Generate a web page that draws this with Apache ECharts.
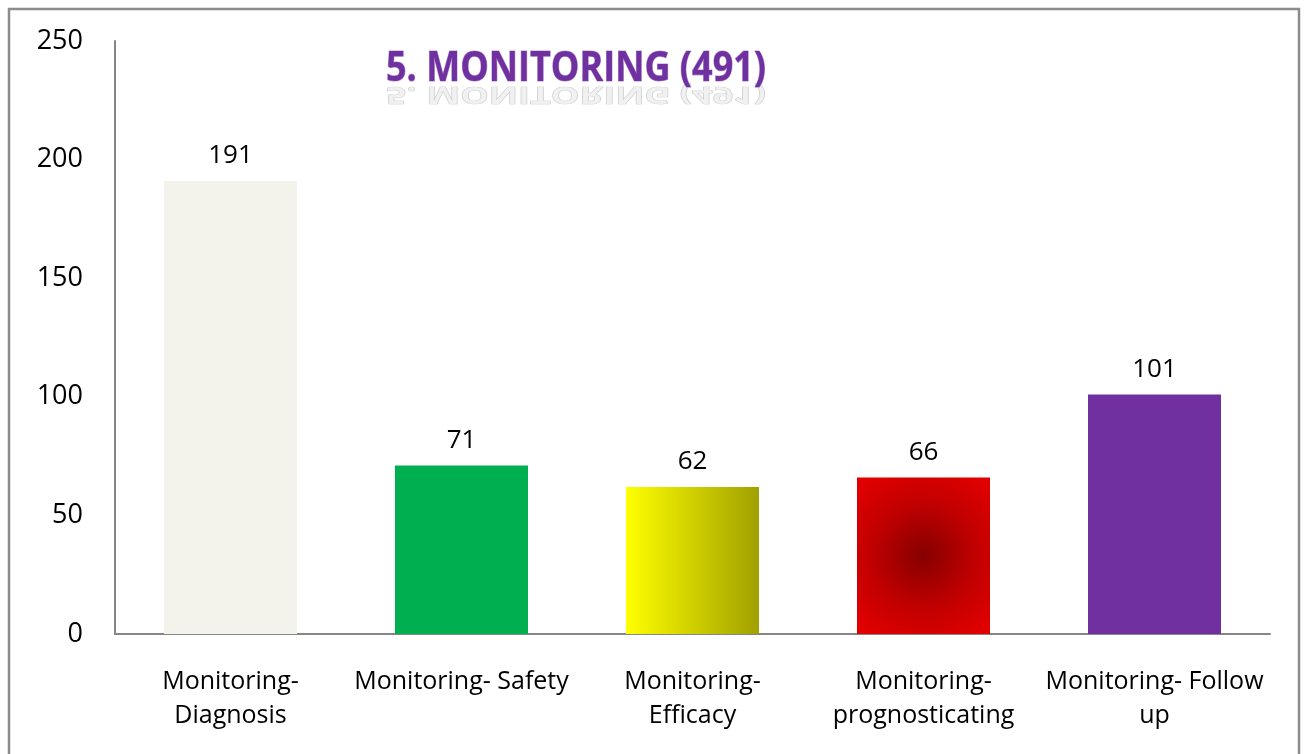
<!DOCTYPE html>
<html>
<head>
<meta charset="utf-8">
<script src="https://cdn.jsdelivr.net/npm/echarts@6/dist/echarts.min.js"></script>
<style>
  html, body { margin: 0; padding: 0; background: #fff; }
  #chart { width: 1306px; height: 754px; }
</style>
</head>
<body>
<div id="chart"></div>
<script>
const categories = ['Monitoring-\nDiagnosis', 'Monitoring- Safety', 'Monitoring-\nEfficacy', 'Monitoring-\nprognosticating', 'Monitoring- Follow\nup']
const values = [191, 71, 62, 66, 101]
const titleText = '5. MONITORING (491)'
const yTicks = { min: 0, max: 250, interval: 50 }

const fontFamily = '"Open Sans", "Noto Sans", sans-serif'

const barColors = [
  '#F3F2EB',
  '#00B050',
  new echarts.graphic.LinearGradient(0, 0, 1, 0, [
    { offset: 0, color: '#FFFF00' },
    { offset: 1, color: '#A0A000' }
  ]),
  new echarts.graphic.RadialGradient(0.5, 0.5, 0.7, [
    { offset: 0, color: '#850000' },
    { offset: 0.55, color: '#C00000' },
    { offset: 1, color: '#E00000' }
  ]),
  '#7030A0'
]

const chart = echarts.init(document.getElementById('chart'))

const option = {
  animation: false,
  grid: { left: 115, right: 36, top: 41, bottom: 120 },
  graphic: [
    {
      type: 'rect',
      shape: { x: 9, y: 9, width: 1290, height: 760 },
      style: { fill: 'none', stroke: '#8c8c8c', lineWidth: 2.5 },
      silent: true
    },
    {
      type: 'text',
      x: 386,
      y: 82,
      scaleY: -0.62,
      style: {
        x: 0,
        y: 0,
        text: titleText,
        verticalAlign: 'bottom',
        font: 'bold 36px ' + fontFamily,
        fill: 'rgba(238,238,238,0.8)',
        stroke: '#c4c4c4',
        lineWidth: 1
      }
    },
    {
      type: 'text',
      x: 386,
      y: 49,
      scaleY: 1.15,
      style: {
        x: 0,
        y: 0,
        text: titleText,
        verticalAlign: 'top',
        font: 'bold 36px ' + fontFamily,
        fill: '#7030A0',
        stroke: '#B9A0D6',
        lineWidth: 1
      }
    }
  ],
  xAxis: {
    type: 'category',
    data: categories,
    axisLine: { lineStyle: { color: '#868686', width: 2 } },
    axisTick: { show: false },
    axisLabel: {
      color: '#000',
      fontSize: 25,
      fontFamily: fontFamily,
      margin: 31,
      lineHeight: 34,
      interval: 0
    }
  },
  yAxis: {
    type: 'value',
    min: yTicks.min,
    max: yTicks.max,
    interval: yTicks.interval,
    axisLine: { show: true, lineStyle: { color: '#868686', width: 2 } },
    axisTick: { show: false },
    splitLine: { show: false },
    axisLabel: {
      color: '#000',
      fontSize: 27,
      fontFamily: fontFamily,
      margin: 32
    }
  },
  series: [
    {
      type: 'bar',
      data: values.map((v, i) => ({ value: v, itemStyle: { color: barColors[i] } })),
      barWidth: 133,
      label: {
        show: true,
        position: 'top',
        distance: 12,
        color: '#000',
        fontSize: 26,
        fontFamily: fontFamily
      }
    }
  ]
}

chart.setOption(option)
</script>
</body>
</html>
